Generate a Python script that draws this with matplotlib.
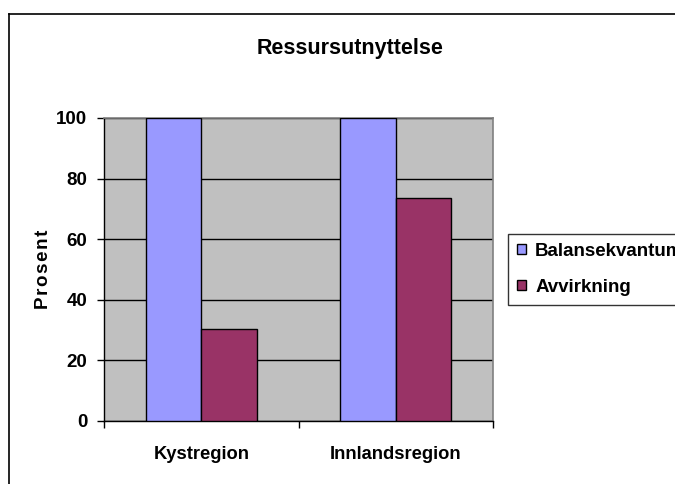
import matplotlib.pyplot as plt
from matplotlib.lines import Line2D
import numpy as np

categories = ['Kystregion', 'Innlandsregion']
balansekvantum = [100, 100]
avvirkning = [30.4, 73.5]
series_names = ['Balansekvantum', 'Avvirkning']
yticks = [0, 20, 40, 60, 80, 100]

plt.rcParams['font.family'] = ['Liberation Sans', 'DejaVu Sans']
plt.rcParams['font.weight'] = 'bold'

fig = plt.figure(figsize=(6.75, 4.84), dpi=100)
ax = fig.add_axes([0.1541, 0.1302, 0.5763, 0.626])
ax.set_facecolor('#C0C0C0')

x = np.arange(len(categories))
w = 0.285
ax.bar(x - w / 2, balansekvantum, w, color='#9999FF', edgecolor='black', linewidth=1, label=series_names[0], zorder=3)
ax.bar(x + w / 2, avvirkning, w, color='#993366', edgecolor='black', linewidth=1, label=series_names[1], zorder=3)

ax.set_xlim(-0.5, 1.5)
ax.set_ylim(0, 100)
ax.set_yticks(yticks)
ax.yaxis.grid(True, color='black', linewidth=1, zorder=1)
ax.set_axisbelow(True)

ax.set_xticks(x)
ax.set_xticklabels(categories, fontsize=13.2, fontweight='bold')
ax.set_xticks([-0.5, 0.5, 1.5], minor=True)
ax.tick_params(axis='x', which='major', length=0, pad=18)
ax.tick_params(axis='x', which='minor', length=5, width=1, direction='out')
ax.tick_params(axis='y', labelsize=13.5, length=5, width=1, pad=7)

for s in ['top', 'right']:
    ax.spines[s].set_color('#808080')
    ax.spines[s].set_linewidth(1.2)
for s in ['left', 'bottom']:
    ax.spines[s].set_color('black')
    ax.spines[s].set_linewidth(1)

fig.text(0.064, 0.443, '\u200a'.join('Prosent'), rotation=90, ha='center', va='center', fontsize=13.5, fontweight='bold')
fig.text(0.5185, 0.9008, 'Ressursutnyttelse', ha='center', va='center', fontsize=15.5, fontweight='bold')

leg = ax.legend(loc='center left', bbox_to_anchor=(508 / 675, 1 - 269.5 / 484), bbox_transform=fig.transFigure,
                fontsize=13.5, frameon=True, fancybox=False, shadow=False, borderpad=0.5,
                handlelength=0.45, handleheight=0.45, handletextpad=0.5, labelspacing=1.0, borderaxespad=0)
leg.get_frame().set_edgecolor('black')
leg.get_frame().set_linewidth(1)

# chart border (only top and left visible)
fig.add_artist(Line2D([9 / 675, 1.0], [1 - 13.5 / 484, 1 - 13.5 / 484], color='black', linewidth=1.2, transform=fig.transFigure))
fig.add_artist(Line2D([9 / 675, 9 / 675], [1 - 13.5 / 484, 0], color='black', linewidth=1.2, transform=fig.transFigure))

fig.savefig('out.png', dpi=100)
